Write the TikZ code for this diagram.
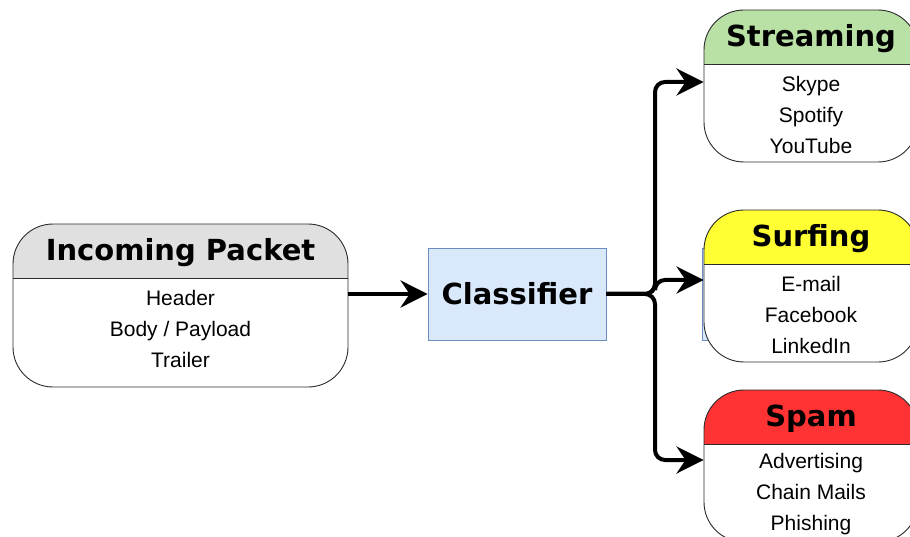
\documentclass[tikz,border=0pt]{standalone}
\usepackage{fontspec}
\setmainfont{Liberation Sans}
\newfontfamily\headfont{DejaVu Sans}
\usetikzlibrary{arrows.meta,calc}
\definecolor{Ink}{HTML}{2B2B2B}
\definecolor{PktGrey}{HTML}{E0E0E0}
\definecolor{StreamGreen}{HTML}{B9E0A5}
\definecolor{SurfYellow}{HTML}{FFFF33}
\definecolor{SpamRed}{HTML}{FF3333}
\definecolor{ClsFill}{HTML}{DAE8FC}
\definecolor{ClsEdge}{HTML}{6C8EBF}
\tikzset{
  card/.style={draw=Ink, line width=0.9pt, rounded corners=40pt, fill=white,
               inner sep=0pt, minimum width=214pt, minimum height=152pt,
               path picture={
                 \fill[#1, sharp corners] (path picture bounding box.north west)
                   rectangle ([yshift=-54pt]path picture bounding box.north east);
                 \draw[Ink, sharp corners, line width=0.9pt]
                   ([yshift=-54pt]path picture bounding box.north west)
                   -- ([yshift=-54pt]path picture bounding box.north east);}},
  clsbox/.style={draw=ClsEdge, line width=0.8pt, fill=ClsFill, inner sep=0pt,
                 minimum width=178pt, minimum height=92pt,
                 font=\headfont\bfseries\fontsize{29}{34}\selectfont},
  ttl/.style={font=\headfont\bfseries\fontsize{29}{34}\selectfont, inner sep=0pt},
  items/.style={font=\fontsize{21}{31}\selectfont, align=center, inner sep=0pt},
  link/.style={-{Stealth[length=27pt,width=27pt,inset=9pt]}, line width=4pt,
               rounded corners=10pt, draw=black},
}

\begin{document}
\begin{tikzpicture}[x=1pt,y=-1pt]
  \path[use as bounding box] (0,0) rectangle (910,537);
  \clip (0,0) rectangle (910,537);

  \node[card=PktGrey, minimum width=335pt, minimum height=163pt] (pkt) at (180.5,305.5) {};
  \node[ttl] (pktT) at ([yshift=-29pt]pkt.north) {Incoming Packet};
  \node[items] (pktL) at ([yshift=-105pt]pkt.north) {Header\\Body / Payload\\Trailer};

  \node[clsbox] (cls) at (517,294) {Classifier};
  \node[clsbox] (ghost) at (791,294) {};

  \node[card=StreamGreen] (stream) at (811,86) {};
  \node[ttl] (streamT) at ([yshift=-29pt]stream.north) {Streaming};
  \node[items] (streamL) at ([yshift=-105pt]stream.north) {Skype\\Spotify\\YouTube};

  \node[card=SurfYellow] (surf) at (811,286) {};
  \node[ttl] (surfT) at ([yshift=-29pt]surf.north) {Surfing};
  \node[items] (surfL) at ([yshift=-105pt]surf.north) {E-mail\\Facebook\\LinkedIn};

  \node[card=SpamRed] (spam) at (811,466) {};
  \node[ttl] (spamT) at ([yshift=-29pt]spam.north) {Spam};
  \node[items] (spamL) at ([yshift=-105pt]spam.north) {Advertising\\Chain Mails\\Phishing};

  \coordinate (split) at (655,294);
  \draw[link] (pkt.east |- cls.west) -- (cls.west);
  \draw[link] (cls.east) -- (split) |- ([yshift=4pt]stream.west);
  \draw[link] (cls.east) -- (split) |- ([yshift=6pt]surf.west);
  \draw[link] (cls.east) -- (split) |- ([yshift=6pt]spam.west);
\end{tikzpicture}
\end{document}
